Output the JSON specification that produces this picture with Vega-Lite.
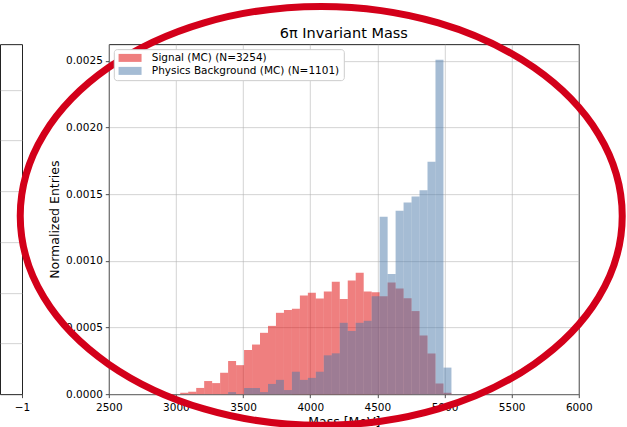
{
  "$schema": "https://vega.github.io/schema/vega-lite/v6.json",
  "padding": {"left": -1, "top": -8.85, "right": 0, "bottom": 0},
  "bounds": "flush",
  "spacing": 86.8,
  "resolve": {"scale": {"fill": "independent"}, "legend": {"fill": "independent"}},
  "config": {
    "font": "DejaVu Sans",
    "view": {"stroke": "#222", "strokeWidth": 1},
    "axis": {
      "labelFont": "DejaVu Sans", "labelFontSize": 10.5, "labelColor": "#000",
      "titleFont": "DejaVu Sans", "titleFontSize": 12.5, "titleFontWeight": "normal", "titleColor": "#000",
      "tickColor": "#222", "tickSize": 3.5, "tickWidth": 0.8, "domain": false,
      "gridColor": "#b0b0b0", "gridOpacity": 0.7, "gridWidth": 0.8, "labelFlush": false
    }
  },
  "hconcat": [
    {
      "width": 22, "height": 350,
      "data": {"values": [{"x": -1, "y": 0}]},
      "mark": {"type": "point", "opacity": 0},
      "encoding": {
        "x": {"field": "x", "type": "quantitative", "scale": {"domain": [-1.3, -1], "nice": false, "zero": false},
              "axis": {"values": [-1], "format": "d", "title": null, "grid": false, "labelPadding": 4.5}},
        "y": {"field": "y", "type": "quantitative", "scale": {"domain": [0, 6.9], "nice": false},
              "axis": {"values": [1, 2, 3, 4, 5, 6], "labels": false, "ticks": false, "title": null, "grid": true}}
      }
    },
    {
      "width": 470, "height": 350,
      "title": {"text": "6π Invariant Mass", "fontSize": 14.5, "fontWeight": "normal", "font": "DejaVu Sans", "color": "#000", "offset": -49.2, "anchor": "middle", "frame": "group"},
      "layer": [
        {
          "data": {"values": [
            {"series": "Signal (MC) (N=3254)", "lo": 3032.0, "hi": 3091.4, "density": 0.0000103},
            {"series": "Signal (MC) (N=3254)", "lo": 3091.4, "hi": 3150.8, "density": 0.0000181},
            {"series": "Signal (MC) (N=3254)", "lo": 3150.8, "hi": 3210.2, "density": 0.0000466},
            {"series": "Signal (MC) (N=3254)", "lo": 3210.2, "hi": 3269.6, "density": 0.0000983},
            {"series": "Signal (MC) (N=3254)", "lo": 3269.6, "hi": 3329.0, "density": 0.0000828},
            {"series": "Signal (MC) (N=3254)", "lo": 3329.0, "hi": 3388.4, "density": 0.0001604},
            {"series": "Signal (MC) (N=3254)", "lo": 3388.4, "hi": 3447.8, "density": 0.0002484},
            {"series": "Signal (MC) (N=3254)", "lo": 3447.8, "hi": 3507.2, "density": 0.0002174},
            {"series": "Signal (MC) (N=3254)", "lo": 3507.2, "hi": 3566.6, "density": 0.000331},
            {"series": "Signal (MC) (N=3254)", "lo": 3566.6, "hi": 3626.0, "density": 0.000372},
            {"series": "Signal (MC) (N=3254)", "lo": 3626.0, "hi": 3685.4, "density": 0.000460},
            {"series": "Signal (MC) (N=3254)", "lo": 3685.4, "hi": 3744.8, "density": 0.000512},
            {"series": "Signal (MC) (N=3254)", "lo": 3744.8, "hi": 3804.2, "density": 0.000610},
            {"series": "Signal (MC) (N=3254)", "lo": 3804.2, "hi": 3863.6, "density": 0.000631},
            {"series": "Signal (MC) (N=3254)", "lo": 3863.6, "hi": 3923.0, "density": 0.000641},
            {"series": "Signal (MC) (N=3254)", "lo": 3923.0, "hi": 3982.4, "density": 0.000740},
            {"series": "Signal (MC) (N=3254)", "lo": 3982.4, "hi": 4041.8, "density": 0.000760},
            {"series": "Signal (MC) (N=3254)", "lo": 4041.8, "hi": 4101.2, "density": 0.000718},
            {"series": "Signal (MC) (N=3254)", "lo": 4101.2, "hi": 4160.6, "density": 0.000770},
            {"series": "Signal (MC) (N=3254)", "lo": 4160.6, "hi": 4220.0, "density": 0.000843},
            {"series": "Signal (MC) (N=3254)", "lo": 4220.0, "hi": 4279.4, "density": 0.000714},
            {"series": "Signal (MC) (N=3254)", "lo": 4279.4, "hi": 4338.8, "density": 0.000853},
            {"series": "Signal (MC) (N=3254)", "lo": 4338.8, "hi": 4398.2, "density": 0.000910},
            {"series": "Signal (MC) (N=3254)", "lo": 4398.2, "hi": 4457.6, "density": 0.000770},
            {"series": "Signal (MC) (N=3254)", "lo": 4457.6, "hi": 4517.0, "density": 0.000765},
            {"series": "Signal (MC) (N=3254)", "lo": 4517.0, "hi": 4576.4, "density": 0.000735},
            {"series": "Signal (MC) (N=3254)", "lo": 4576.4, "hi": 4635.8, "density": 0.000838},
            {"series": "Signal (MC) (N=3254)", "lo": 4635.8, "hi": 4695.2, "density": 0.000792},
            {"series": "Signal (MC) (N=3254)", "lo": 4695.2, "hi": 4754.6, "density": 0.000720},
            {"series": "Signal (MC) (N=3254)", "lo": 4754.6, "hi": 4814.0, "density": 0.000623},
            {"series": "Signal (MC) (N=3254)", "lo": 4814.0, "hi": 4873.4, "density": 0.000440},
            {"series": "Signal (MC) (N=3254)", "lo": 4873.4, "hi": 4932.8, "density": 0.000305},
            {"series": "Signal (MC) (N=3254)", "lo": 4932.8, "hi": 4992.2, "density": 0.000080},
            {"series": "Signal (MC) (N=3254)", "lo": 4992.2, "hi": 5051.6, "density": 0.0000103},
            {"series": "Physics Background (MC) (N=1101)", "lo": 3388.4, "hi": 3447.8, "density": 0.0000153},
            {"series": "Physics Background (MC) (N=1101)", "lo": 3507.2, "hi": 3566.6, "density": 0.0000459},
            {"series": "Physics Background (MC) (N=1101)", "lo": 3566.6, "hi": 3626.0, "density": 0.0000459},
            {"series": "Physics Background (MC) (N=1101)", "lo": 3626.0, "hi": 3685.4, "density": 0.0000153},
            {"series": "Physics Background (MC) (N=1101)", "lo": 3685.4, "hi": 3744.8, "density": 0.0000765},
            {"series": "Physics Background (MC) (N=1101)", "lo": 3744.8, "hi": 3804.2, "density": 0.000107},
            {"series": "Physics Background (MC) (N=1101)", "lo": 3804.2, "hi": 3863.6, "density": 0.0000306},
            {"series": "Physics Background (MC) (N=1101)", "lo": 3863.6, "hi": 3923.0, "density": 0.000168},
            {"series": "Physics Background (MC) (N=1101)", "lo": 3923.0, "hi": 3982.4, "density": 0.000107},
            {"series": "Physics Background (MC) (N=1101)", "lo": 3982.4, "hi": 4041.8, "density": 0.000122},
            {"series": "Physics Background (MC) (N=1101)", "lo": 4041.8, "hi": 4101.2, "density": 0.000168},
            {"series": "Physics Background (MC) (N=1101)", "lo": 4101.2, "hi": 4160.6, "density": 0.000291},
            {"series": "Physics Background (MC) (N=1101)", "lo": 4160.6, "hi": 4220.0, "density": 0.000306},
            {"series": "Physics Background (MC) (N=1101)", "lo": 4220.0, "hi": 4279.4, "density": 0.000535},
            {"series": "Physics Background (MC) (N=1101)", "lo": 4279.4, "hi": 4338.8, "density": 0.000474},
            {"series": "Physics Background (MC) (N=1101)", "lo": 4338.8, "hi": 4398.2, "density": 0.000535},
            {"series": "Physics Background (MC) (N=1101)", "lo": 4398.2, "hi": 4457.6, "density": 0.000550},
            {"series": "Physics Background (MC) (N=1101)", "lo": 4457.6, "hi": 4517.0, "density": 0.000734},
            {"series": "Physics Background (MC) (N=1101)", "lo": 4517.0, "hi": 4576.4, "density": 0.001330},
            {"series": "Physics Background (MC) (N=1101)", "lo": 4576.4, "hi": 4635.8, "density": 0.000902},
            {"series": "Physics Background (MC) (N=1101)", "lo": 4635.8, "hi": 4695.2, "density": 0.001376},
            {"series": "Physics Background (MC) (N=1101)", "lo": 4695.2, "hi": 4754.6, "density": 0.001437},
            {"series": "Physics Background (MC) (N=1101)", "lo": 4754.6, "hi": 4814.0, "density": 0.001483},
            {"series": "Physics Background (MC) (N=1101)", "lo": 4814.0, "hi": 4873.4, "density": 0.001529},
            {"series": "Physics Background (MC) (N=1101)", "lo": 4873.4, "hi": 4932.8, "density": 0.001743},
            {"series": "Physics Background (MC) (N=1101)", "lo": 4932.8, "hi": 4992.2, "density": 0.002508},
            {"series": "Physics Background (MC) (N=1101)", "lo": 4992.2, "hi": 5051.6, "density": 0.000199}
          ]},
          "mark": {"type": "rect", "opacity": 0.5},
          "encoding": {
            "x": {"field": "lo", "type": "quantitative", "scale": {"domain": [2500, 6000], "nice": false, "zero": false},
                  "axis": {"values": [2500, 3000, 3500, 4000, 4500, 5000, 5500, 6000], "format": "d", "title": "Mass [MeV]", "labelPadding": 4.5, "titlePadding": 3, "grid": true}},
            "x2": {"field": "hi"},
            "y": {"field": "density", "type": "quantitative", "scale": {"domain": [0, 0.002625], "nice": false},
                  "axis": {"values": [0, 0.0005, 0.001, 0.0015, 0.002, 0.0025], "format": ".4f", "title": "Normalized Entries", "labelPadding": 3, "titlePadding": 4, "grid": true}},
            "y2": {"datum": 0},
            "fill": {"field": "series", "type": "nominal",
                     "scale": {"domain": ["Signal (MC) (N=3254)", "Physics Background (MC) (N=1101)"], "range": ["#e00000", "#4b79a9"]},
                     "legend": {"orient": "top-left", "offset": 5, "title": null, "padding": 3.5, "strokeColor": "#cccccc", "fillColor": "#ffffff", "cornerRadius": 3,
                                "labelFontSize": 10.5, "labelFont": "DejaVu Sans", "labelColor": "#000", "symbolType": "M-1,-1H4.75V1H-1Z", "symbolSize": 64,
                                "symbolOpacity": 0.5, "symbolStrokeWidth": 0, "labelOffset": 24, "rowPadding": 2, "labelLimit": 400}}
          }
        },
        {
          "data": {"values": [{}]},
          "mark": {"type": "point", "shape": "M-1,0A1,0.696,0,1,1,1,0A1,0.696,0,1,1,-1,0Z", "size": 362404, "filled": false, "stroke": "#d3001a", "strokeWidth": 7, "opacity": 1},
          "encoding": {"x": {"datum": 4082}, "y": {"datum": 0.001337}}
        }
      ]
    }
  ]
}
